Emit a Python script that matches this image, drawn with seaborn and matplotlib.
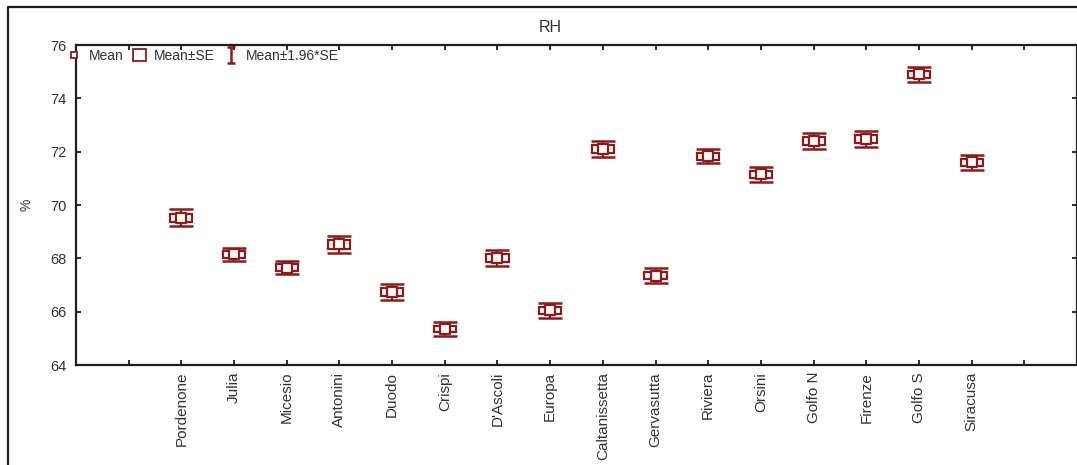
import numpy as np
import pandas as pd
import matplotlib
matplotlib.use("Agg")
import matplotlib.pyplot as plt
import seaborn as sns
from matplotlib.lines import Line2D
from matplotlib.patches import Patch
from matplotlib.path import Path

sites = ["Pordenone", "Julia", "Micesio", "Antonini", "Duodo", "Crispi", "D'Ascoli",
         "Europa", "Caltanissetta", "Gervasutta", "Riviera", "Orsini", "Golfo N",
         "Firenze", "Golfo S", "Siracusa"]
rh_mean = [69.52, 68.15, 67.65, 68.52, 66.75, 65.35, 68.00, 66.05,
           72.10, 67.35, 71.83, 71.15, 72.40, 72.47, 74.90, 71.60]
rh_se = [0.16, 0.13, 0.13, 0.17, 0.15, 0.13, 0.15, 0.14,
         0.15, 0.14, 0.13, 0.14, 0.16, 0.15, 0.14, 0.14]
y_ticks = [64, 66, 68, 70, 72, 74, 76]

red = "#8c1c1c"
dark = "#1e1e1e"
txt = "#333333"

df = pd.DataFrame({"site": sites, "mean": rh_mean, "se": rh_se})
df["pos"] = np.arange(1, len(df) + 1)
df["ci"] = 1.96 * df["se"]

sns.set_style("white")
plt.rcParams["font.family"] = ["Liberation Sans", "DejaVu Sans"]

fig = plt.figure(figsize=(10.77, 4.65), dpi=100)
ax = fig.add_axes([76 / 1077, 1 - 365 / 465, 1 - 76 / 1077, 320 / 465])

# whiskers (mean +/- 1.96*SE)
ax.errorbar(df["pos"], df["mean"], yerr=df["ci"], fmt="none", ecolor=red,
            elinewidth=1.6, capsize=8.5, capthick=1.8, zorder=2)
# boxes (mean +/- SE)
ax.bar(df["pos"], 2 * df["se"], bottom=df["mean"] - df["se"], width=0.42,
       facecolor="white", edgecolor=red, linewidth=1.6, zorder=3)
# mean points
sns.scatterplot(data=df, x="pos", y="mean", marker="s", s=42, color="white",
                edgecolor=red, linewidth=1.6, ax=ax, zorder=4, legend=False)

ax.set_xlim(-1, 18)
ax.set_ylim(64, 76)
ax.set_yticks(y_ticks)
ax.set_xticks(np.arange(0, 18))
ax.set_xticklabels([""] + sites + [""], rotation=90, fontsize=11, color=txt)
ax.tick_params(axis="y", labelsize=10.5, labelcolor=txt)
ax.tick_params(direction="in", length=3.5, width=1.3, color=dark,
               top=True, right=True, bottom=True, left=True)
ax.tick_params(axis="x", pad=5)
ax.tick_params(axis="y", pad=6.5)
for sp in ax.spines.values():
    sp.set_color(dark)
    sp.set_linewidth(1.6)
ax.set_xlabel("")
ax.set_ylabel("%", fontsize=10, color=txt, labelpad=12)

# legend
ibeam = Path([(-0.5, 1), (0.5, 1), (0, 1), (0, -1), (-0.5, -1), (0.5, -1)],
             [Path.MOVETO, Path.LINETO, Path.MOVETO, Path.LINETO, Path.MOVETO, Path.LINETO])
handles = [
    Line2D([], [], marker="s", linestyle="none", markersize=5, markerfacecolor="white",
           markeredgecolor=red, markeredgewidth=1.3),
    Patch(facecolor="white", edgecolor=red, linewidth=1.3),
    Line2D([], [], marker=ibeam, linestyle="none", markersize=11,
           markeredgecolor=red, markeredgewidth=1.8),
]
ax.legend(handles, ["Mean", "Mean±SE", "Mean±1.96*SE"], ncol=3, loc="upper left",
          bbox_to_anchor=(68 / 1077, 1 - 49 / 465), bbox_transform=fig.transFigure,
          frameon=False, fontsize=10, handlelength=0.9, handleheight=0.9,
          handletextpad=0.6, columnspacing=0.7, borderpad=0, borderaxespad=0,
          labelcolor=txt)

fig.text(550 / 1077, 1 - 27 / 465, "RH", ha="center", va="center", fontsize=11.5, color=txt)

# outer frame
fig.add_artist(Line2D([8 / 1077, 8 / 1077, 1], [0, 1 - 7 / 465, 1 - 7 / 465],
                      transform=fig.transFigure, color=dark, linewidth=1.6))

fig.savefig("out.png", dpi=100)
